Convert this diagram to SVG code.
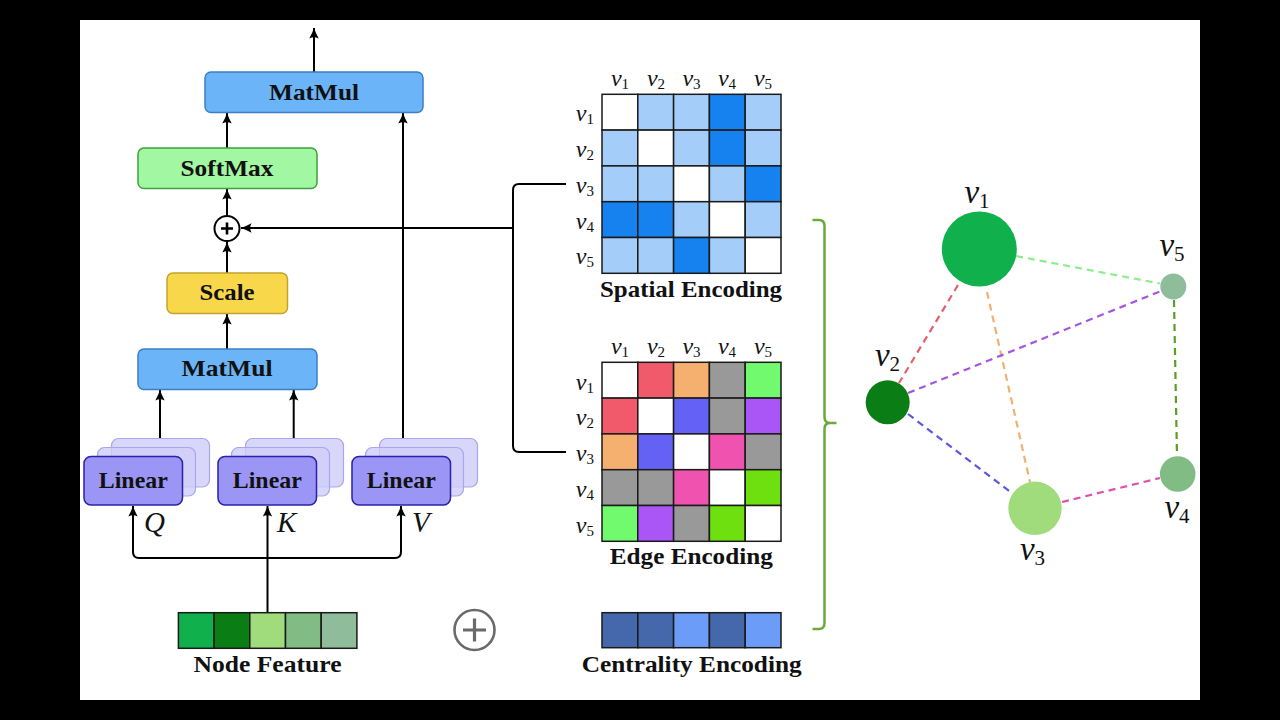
<svg xmlns="http://www.w3.org/2000/svg" width="1280" height="720" viewBox="0 0 1280 720">
<defs>
<marker id="ah" markerWidth="12" markerHeight="11" refX="10.5" refY="5.5" orient="auto" markerUnits="userSpaceOnUse">
<path d="M0,0.8 Q5.5,3.8 10.5,5.5 Q5.5,7.2 0,10.2 Q2.6,5.5 0,0.8 Z" fill="#000"/>
</marker>
<style>
.lbl{font-family:"Liberation Serif","Times New Roman",serif;font-weight:bold;font-size:23px;text-anchor:middle;fill:#111}
.vl{font-family:"Liberation Serif","Times New Roman",serif;font-style:italic;font-size:24px;fill:#111}
.vc{text-anchor:middle}
.vr{text-anchor:end}
.sub{font-size:15px;font-style:normal}
.gv{font-family:"Liberation Serif","Times New Roman",serif;font-style:italic;font-size:33px;fill:#111;text-anchor:middle}
.gsub{font-size:21px;font-style:normal}
.qkv{font-family:"Liberation Serif","Times New Roman",serif;font-style:italic;font-size:29px;fill:#111}
.wire{fill:none;stroke:#000;stroke-width:2}
.arr{fill:none;stroke:#000;stroke-width:2;marker-end:url(#ah)}
.mm{fill:#6cb4f8;stroke:#3a7fc4;stroke-width:1.5}
.sm{fill:#a2f7a2;stroke:#3f9f3f;stroke-width:1.5}
.sc{fill:#f8d84a;stroke:#c4a22a;stroke-width:1.5}
.lin{fill:#9b96f5;stroke:#2a22a6;stroke-width:1.5}
.back{fill:#cfcdf8;fill-opacity:0.8;stroke:#a9a5ee;stroke-width:1.2}
.cell{stroke:#1a1a1a;stroke-width:1.5}
.edge{fill:none;stroke-width:2.2;stroke-dasharray:7 5}
</style>
</defs>
<rect x="0" y="0" width="1280" height="720" fill="#000"/>
<rect x="80" y="20" width="1120" height="680" fill="#fff"/>

<!-- connectors -->
<g id="connectors">
<path class="arr" d="M314,72 V28"/>
<path class="arr" d="M227,148 V113"/>
<path class="arr" d="M227,215.5 V189"/>
<path class="arr" d="M227,273 V242"/>
<path class="arr" d="M227,349 V314"/>
<path class="arr" d="M160,438 V390"/>
<path class="arr" d="M293.7,438 V390"/>
<path class="arr" d="M403,438 V113"/>
<path class="arr" d="M513,228 H241"/>
<path class="arr" d="M267.5,558 H139 Q133,558 133,552 V506"/>
<path class="arr" d="M267.5,558 H395 Q401,558 401,552 V506"/>
<path class="arr" d="M267.5,613 V506"/>
<path class="wire" d="M566,184 H519 Q513,184 513,190 V446 Q513,452 519,452 H566"/>
<path d="M812.5,220 H819 Q824.5,220 824.5,226 V417 Q824.5,423 830,423 H836.5 M830,423 Q824.5,423 824.5,429 V623 Q824.5,629 819,629 H812.5" fill="none" stroke="#68ab3a" stroke-width="2.5"/>
</g>

<!-- attention block -->
<g id="matmul-top">
<rect class="mm" x="205" y="72" width="218" height="40.5" rx="6"/>
<text class="lbl" x="314" y="99.5" textLength="90" lengthAdjust="spacingAndGlyphs">MatMul</text>
</g>
<g id="softmax">
<rect class="sm" x="138" y="148" width="179" height="40.5" rx="6"/>
<text class="lbl" x="227" y="175.5" textLength="93" lengthAdjust="spacingAndGlyphs">SoftMax</text>
</g>
<g id="add">
<circle cx="227" cy="228.5" r="12.5" fill="#fff" stroke="#000" stroke-width="2"/>
<path d="M221,228.5 H233 M227,222.5 V234.5" stroke="#000" stroke-width="2.6"/>
</g>
<g id="scale">
<rect class="sc" x="167" y="273" width="120.5" height="40.5" rx="6"/>
<text class="lbl" x="227" y="300" textLength="55" lengthAdjust="spacingAndGlyphs">Scale</text>
</g>
<g id="matmul-bottom">
<rect class="mm" x="138" y="349" width="179" height="40.5" rx="6"/>
<text class="lbl" x="227" y="376" textLength="91" lengthAdjust="spacingAndGlyphs">MatMul</text>
</g>
<g id="linear-q">
<rect class="back" x="111.5" y="438.5" width="98" height="48.5" rx="7"/>
<rect class="back" x="97.5" y="447.5" width="98" height="48.5" rx="7"/>
<rect class="lin" x="84" y="456.5" width="98.5" height="48.5" rx="7"/>
<text class="lbl" x="133.3" y="487.5" textLength="69" lengthAdjust="spacingAndGlyphs">Linear</text>
</g>
<g id="linear-k">
<rect class="back" x="245.5" y="438.5" width="98" height="48.5" rx="7"/>
<rect class="back" x="231.5" y="447.5" width="98" height="48.5" rx="7"/>
<rect class="lin" x="218" y="456.5" width="98.5" height="48.5" rx="7"/>
<text class="lbl" x="267.3" y="487.5" textLength="69" lengthAdjust="spacingAndGlyphs">Linear</text>
</g>
<g id="linear-v">
<rect class="back" x="379.5" y="438.5" width="98" height="48.5" rx="7"/>
<rect class="back" x="365.5" y="447.5" width="98" height="48.5" rx="7"/>
<rect class="lin" x="352" y="456.5" width="98.5" height="48.5" rx="7"/>
<text class="lbl" x="401.3" y="487.5" textLength="69" lengthAdjust="spacingAndGlyphs">Linear</text>
</g>
<g id="qkv-labels">
<text class="qkv" x="144" y="532">Q</text>
<text class="qkv" x="277" y="532">K</text>
<text class="qkv" x="412" y="532">V</text>
</g>
<g id="node-feature">
<rect class="cell" x="178.4" y="612.7" width="35.7" height="35.6" fill="#10b04c"/>
<rect class="cell" x="214.1" y="612.7" width="35.7" height="35.6" fill="#0a7d14"/>
<rect class="cell" x="249.8" y="612.7" width="35.7" height="35.6" fill="#a0dc7c"/>
<rect class="cell" x="285.5" y="612.7" width="35.7" height="35.6" fill="#80bc84"/>
<rect class="cell" x="321.2" y="612.7" width="35.7" height="35.6" fill="#8fbc9a"/>
<text class="lbl" x="267.5" y="672" textLength="148" lengthAdjust="spacingAndGlyphs">Node Feature</text>
</g>
<g id="plus-gray">
<circle cx="474.5" cy="630" r="20" fill="#fff" stroke="#6a6a6a" stroke-width="2.6"/>
<path d="M463,630 H486 M474.5,618.5 V641.5" stroke="#6a6a6a" stroke-width="3.2"/>
</g>

<!-- spatial encoding -->
<g id="spatial-encoding">
<g class="cell">
<rect x="602" y="94.3" width="35.8" height="35.8" fill="#fff"/>
<rect x="637.8" y="94.3" width="35.8" height="35.8" fill="#a4cef9"/>
<rect x="673.6" y="94.3" width="35.8" height="35.8" fill="#a4cef9"/>
<rect x="709.4" y="94.3" width="35.8" height="35.8" fill="#1582ef"/>
<rect x="745.2" y="94.3" width="35.8" height="35.8" fill="#a4cef9"/>
<rect x="602" y="130.1" width="35.8" height="35.8" fill="#a4cef9"/>
<rect x="637.8" y="130.1" width="35.8" height="35.8" fill="#fff"/>
<rect x="673.6" y="130.1" width="35.8" height="35.8" fill="#a4cef9"/>
<rect x="709.4" y="130.1" width="35.8" height="35.8" fill="#1582ef"/>
<rect x="745.2" y="130.1" width="35.8" height="35.8" fill="#a4cef9"/>
<rect x="602" y="165.9" width="35.8" height="35.8" fill="#a4cef9"/>
<rect x="637.8" y="165.9" width="35.8" height="35.8" fill="#a4cef9"/>
<rect x="673.6" y="165.9" width="35.8" height="35.8" fill="#fff"/>
<rect x="709.4" y="165.9" width="35.8" height="35.8" fill="#a4cef9"/>
<rect x="745.2" y="165.9" width="35.8" height="35.8" fill="#1582ef"/>
<rect x="602" y="201.7" width="35.8" height="35.8" fill="#1582ef"/>
<rect x="637.8" y="201.7" width="35.8" height="35.8" fill="#1582ef"/>
<rect x="673.6" y="201.7" width="35.8" height="35.8" fill="#a4cef9"/>
<rect x="709.4" y="201.7" width="35.8" height="35.8" fill="#fff"/>
<rect x="745.2" y="201.7" width="35.8" height="35.8" fill="#a4cef9"/>
<rect x="602" y="237.5" width="35.8" height="35.8" fill="#a4cef9"/>
<rect x="637.8" y="237.5" width="35.8" height="35.8" fill="#a4cef9"/>
<rect x="673.6" y="237.5" width="35.8" height="35.8" fill="#1582ef"/>
<rect x="709.4" y="237.5" width="35.8" height="35.8" fill="#a4cef9"/>
<rect x="745.2" y="237.5" width="35.8" height="35.8" fill="#fff"/>
</g>
<text class="vl vc" x="620" y="86">v<tspan class="sub" dy="3">1</tspan></text>
<text class="vl vc" x="656" y="86">v<tspan class="sub" dy="3">2</tspan></text>
<text class="vl vc" x="691.5" y="86">v<tspan class="sub" dy="3">3</tspan></text>
<text class="vl vc" x="727" y="86">v<tspan class="sub" dy="3">4</tspan></text>
<text class="vl vc" x="763" y="86">v<tspan class="sub" dy="3">5</tspan></text>
<text class="vl vr" x="594" y="121">v<tspan class="sub" dy="3">1</tspan></text>
<text class="vl vr" x="594" y="157">v<tspan class="sub" dy="3">2</tspan></text>
<text class="vl vr" x="594" y="193">v<tspan class="sub" dy="3">3</tspan></text>
<text class="vl vr" x="594" y="228.5">v<tspan class="sub" dy="3">4</tspan></text>
<text class="vl vr" x="594" y="264">v<tspan class="sub" dy="3">5</tspan></text>
<text class="lbl" x="691" y="297" textLength="182" lengthAdjust="spacingAndGlyphs">Spatial Encoding</text>
</g>

<!-- edge encoding -->
<g id="edge-encoding">
<g class="cell">
<rect x="602" y="362.3" width="35.8" height="35.8" fill="#fff"/>
<rect x="637.8" y="362.3" width="35.8" height="35.8" fill="#f05a6a"/>
<rect x="673.6" y="362.3" width="35.8" height="35.8" fill="#f5b070"/>
<rect x="709.4" y="362.3" width="35.8" height="35.8" fill="#999999"/>
<rect x="745.2" y="362.3" width="35.8" height="35.8" fill="#72fa6e"/>
<rect x="602" y="398.1" width="35.8" height="35.8" fill="#f05a6a"/>
<rect x="637.8" y="398.1" width="35.8" height="35.8" fill="#fff"/>
<rect x="673.6" y="398.1" width="35.8" height="35.8" fill="#6462f5"/>
<rect x="709.4" y="398.1" width="35.8" height="35.8" fill="#999999"/>
<rect x="745.2" y="398.1" width="35.8" height="35.8" fill="#aa55f5"/>
<rect x="602" y="433.9" width="35.8" height="35.8" fill="#f5b070"/>
<rect x="637.8" y="433.9" width="35.8" height="35.8" fill="#6462f5"/>
<rect x="673.6" y="433.9" width="35.8" height="35.8" fill="#fff"/>
<rect x="709.4" y="433.9" width="35.8" height="35.8" fill="#f052b0"/>
<rect x="745.2" y="433.9" width="35.8" height="35.8" fill="#999999"/>
<rect x="602" y="469.7" width="35.8" height="35.8" fill="#999999"/>
<rect x="637.8" y="469.7" width="35.8" height="35.8" fill="#999999"/>
<rect x="673.6" y="469.7" width="35.8" height="35.8" fill="#f052b0"/>
<rect x="709.4" y="469.7" width="35.8" height="35.8" fill="#fff"/>
<rect x="745.2" y="469.7" width="35.8" height="35.8" fill="#6ee010"/>
<rect x="602" y="505.5" width="35.8" height="35.8" fill="#72fa6e"/>
<rect x="637.8" y="505.5" width="35.8" height="35.8" fill="#aa55f5"/>
<rect x="673.6" y="505.5" width="35.8" height="35.8" fill="#999999"/>
<rect x="709.4" y="505.5" width="35.8" height="35.8" fill="#6ee010"/>
<rect x="745.2" y="505.5" width="35.8" height="35.8" fill="#fff"/>
</g>
<text class="vl vc" x="620" y="354">v<tspan class="sub" dy="3">1</tspan></text>
<text class="vl vc" x="656" y="354">v<tspan class="sub" dy="3">2</tspan></text>
<text class="vl vc" x="691.5" y="354">v<tspan class="sub" dy="3">3</tspan></text>
<text class="vl vc" x="727" y="354">v<tspan class="sub" dy="3">4</tspan></text>
<text class="vl vc" x="763" y="354">v<tspan class="sub" dy="3">5</tspan></text>
<text class="vl vr" x="594" y="389.5">v<tspan class="sub" dy="3">1</tspan></text>
<text class="vl vr" x="594" y="425">v<tspan class="sub" dy="3">2</tspan></text>
<text class="vl vr" x="594" y="461">v<tspan class="sub" dy="3">3</tspan></text>
<text class="vl vr" x="594" y="497">v<tspan class="sub" dy="3">4</tspan></text>
<text class="vl vr" x="594" y="532.5">v<tspan class="sub" dy="3">5</tspan></text>
<text class="lbl" x="691.3" y="564" textLength="163" lengthAdjust="spacingAndGlyphs">Edge Encoding</text>
</g>

<!-- centrality encoding -->
<g id="centrality-encoding">
<g class="cell">
<rect x="602" y="612.7" width="35.8" height="35" fill="#4567ab"/>
<rect x="637.8" y="612.7" width="35.8" height="35" fill="#4567ab"/>
<rect x="673.6" y="612.7" width="35.8" height="35" fill="#6b9cf7"/>
<rect x="709.4" y="612.7" width="35.8" height="35" fill="#4567ab"/>
<rect x="745.2" y="612.7" width="35.8" height="35" fill="#6b9cf7"/>
</g>
<text class="lbl" x="691.7" y="672" textLength="220" lengthAdjust="spacingAndGlyphs">Centrality Encoding</text>
</g>

<!-- graph -->
<g id="graph-edges">
<line class="edge" x1="1016" y1="256" x2="1160" y2="283.5" stroke="#8aee8a"/>
<line class="edge" x1="958" y1="285" x2="899" y2="383" stroke="#e0606e"/>
<line class="edge" x1="987" y1="292" x2="1030" y2="482" stroke="#f0b070"/>
<line class="edge" x1="908" y1="393" x2="1161" y2="291" stroke="#a655e0"/>
<line class="edge" x1="908" y1="414" x2="1013" y2="494" stroke="#5a58e0"/>
<line class="edge" x1="1062" y1="502" x2="1160" y2="478" stroke="#e050b0"/>
<line class="edge" x1="1174" y1="300" x2="1177" y2="456" stroke="#5a9e28"/>
</g>
<g id="v1">
<circle cx="979.3" cy="249" r="37.5" fill="#10b04c"/>
<text class="gv" x="977" y="203">v<tspan class="gsub" dy="5">1</tspan></text>
</g>
<g id="v2">
<circle cx="887.7" cy="402.3" r="22" fill="#0a7d14"/>
<text class="gv" x="887.5" y="366">v<tspan class="gsub" dy="5">2</tspan></text>
</g>
<g id="v3">
<circle cx="1035" cy="508.3" r="26.7" fill="#a0dc7c"/>
<text class="gv" x="1032.5" y="560">v<tspan class="gsub" dy="5">3</tspan></text>
</g>
<g id="v4">
<circle cx="1177.7" cy="474" r="17.8" fill="#80bc84"/>
<text class="gv" x="1177" y="518">v<tspan class="gsub" dy="5">4</tspan></text>
</g>
<g id="v5">
<circle cx="1173.3" cy="286.5" r="13" fill="#8fbc9a"/>
<text class="gv" x="1172" y="256">v<tspan class="gsub" dy="5">5</tspan></text>
</g>
</svg>
